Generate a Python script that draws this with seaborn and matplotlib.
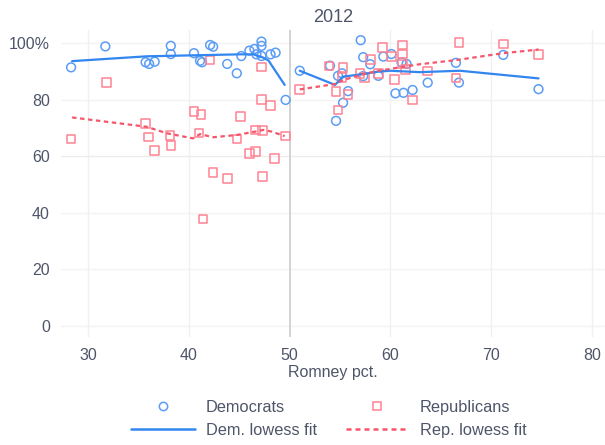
import matplotlib
matplotlib.use("Agg")
import matplotlib.pyplot as plt
from matplotlib.lines import Line2D
import seaborn as sns
import pandas as pd

# Democratic districts: Romney share vs. party-line voting share
dem_x = [28.3, 31.7, 35.7, 36.05, 36.6, 38.2, 38.2, 40.5, 41.1, 41.3, 42.1, 42.4,
         43.8, 44.75, 45.2, 46.0, 46.5, 47.2, 47.2, 46.7, 47.2, 48.1, 48.6, 49.6,
         51.0, 54.0, 54.8, 55.2, 55.8, 55.3, 54.6, 57.05, 57.3, 58.0, 57.3, 58.8,
         59.3, 60.1, 61.1, 61.6, 60.5, 61.3, 62.2, 63.7, 66.5, 66.8, 71.2, 74.7]
dem_y = [91.4, 98.8, 93.2, 92.6, 93.4, 99.0, 96.1, 96.4, 93.7, 93.2, 99.3, 98.7,
         92.6, 89.3, 95.4, 97.3, 97.9, 100.5, 99.0, 96.0, 95.4, 96.0, 96.6, 79.9,
         90.2, 92.0, 88.4, 89.3, 83.0, 78.9, 72.5, 101.0, 95.0, 92.5, 88.3, 88.4,
         95.2, 96.1, 93.2, 92.6, 82.2, 82.4, 83.4, 86.0, 93.0, 86.0, 95.8, 83.7]

# Republican districts
rep_x = [28.3, 31.8, 35.7, 36.0, 36.6, 38.1, 38.2, 40.5, 41.2, 41.0, 41.4, 42.1,
         42.4, 43.8, 44.75, 45.1, 46.0, 46.6, 46.6, 47.3, 47.2, 48.1, 47.2, 48.5,
         47.3, 49.6,
         51.0, 53.9, 55.3, 54.6, 54.8, 55.8, 55.2, 57.0, 57.4, 58.0, 58.8, 59.2,
         60.1, 60.4, 61.2, 61.2, 61.2, 61.5, 62.2, 63.7, 66.5, 66.8, 71.2, 74.7]
rep_y = [66.0, 86.0, 71.6, 66.8, 62.0, 67.3, 63.8, 75.7, 74.7, 68.2, 37.8, 94.0,
         54.3, 52.2, 66.0, 74.0, 61.0, 61.6, 69.3, 69.0, 80.0, 77.9, 91.6, 59.2,
         52.8, 67.1,
         83.6, 91.9, 91.3, 82.8, 76.3, 81.9, 87.9, 89.3, 87.9, 94.2, 89.3, 98.5,
         95.2, 87.2, 99.3, 96.1, 92.6, 90.7, 79.9, 90.1, 87.7, 100.1, 99.6, 96.0]

# Lowess fits, estimated separately on each side of the 50% cutoff
dem_fit_left_x = [28.4, 35.8, 45.1, 46.4, 47.4, 47.9, 49.5]
dem_fit_left_y = [93.6, 95.3, 96.0, 96.0, 94.8, 93.8, 85.2]
dem_fit_right_x = [51.0, 54.5, 55.3, 57.2, 58.8, 60.0, 62.9, 66.9, 74.7]
dem_fit_right_y = [90.2, 85.2, 88.1, 89.0, 89.9, 90.2, 89.7, 90.2, 87.5]
rep_fit_left_x = [28.4, 35.8, 37.8, 40.4, 41.1, 42.4, 44.75, 46.6, 47.4, 48.2, 49.5]
rep_fit_left_y = [73.7, 70.4, 68.1, 66.3, 67.8, 66.7, 67.5, 68.7, 69.3, 68.7, 67.1]
rep_fit_right_x = [51.0, 54.5, 55.3, 57.0, 58.8, 61.3, 62.9, 66.6, 71.2, 74.7]
rep_fit_right_y = [83.6, 85.5, 86.9, 88.7, 90.2, 91.6, 92.5, 94.0, 96.4, 97.7]

x_ticks = [30, 40, 50, 60, 70, 80]
y_ticks = [0, 20, 40, 60, 80, 100]
y_tick_labels = ["0", "20", "40", "60", "80", "100%"]

title = "2012"
x_label = "Romney pct."

DEM_PT = "#5b9df5"
DEM_LN = "#3286ef"
REP_PT = "#ff8393"
REP_LN = "#f5566b"
TXT = "#4f5569"

sns.set_theme(style="white")
plt.rcParams["font.family"] = ["Liberation Sans", "DejaVu Sans"]

fig = plt.figure(figsize=(6.05, 4.45), dpi=100)
ax = fig.add_axes([61 / 605, 1 - 337 / 445, 544 / 605, 307 / 445])

dem = pd.DataFrame({"romney": dem_x, "pct": dem_y})
rep = pd.DataFrame({"romney": rep_x, "pct": rep_y})

# gridlines
for yv in y_ticks:
    ax.axhline(yv, color="#ececec" if yv == 60 else "#f3f3f3", lw=1.0, zorder=0)
for xv in x_ticks:
    if xv != 50:
        ax.axvline(xv, color="#f0f0f0", lw=1.0, zorder=0)
ax.axvline(50, color="#d2d2d2", lw=1.4, zorder=0.5)

sns.scatterplot(data=dem, x="romney", y="pct", ax=ax, marker="o", s=40,
                facecolor="none", edgecolor=DEM_PT, linewidth=1.1, zorder=3)
sns.scatterplot(data=rep, x="romney", y="pct", ax=ax, marker="s", s=38,
                facecolor="none", edgecolor=REP_PT, linewidth=1.1, zorder=3)

for fx, fy in [(dem_fit_left_x, dem_fit_left_y), (dem_fit_right_x, dem_fit_right_y)]:
    sns.lineplot(x=fx, y=fy, ax=ax, color=DEM_LN, lw=1.6, sort=False,
                 estimator=None, zorder=4)
for fx, fy in [(rep_fit_left_x, rep_fit_left_y), (rep_fit_right_x, rep_fit_right_y)]:
    sns.lineplot(x=fx, y=fy, ax=ax, color=REP_LN, lw=1.6, sort=False,
                 estimator=None, zorder=4, dashes=False, linestyle=(0, (2.0, 1.6)))

ax.set_xlim(27.3, 81.3)
ax.set_ylim(-3.9, 104.6)
ax.set_xticks(x_ticks)
ax.set_yticks(y_ticks)
ax.set_yticklabels(y_tick_labels)
ax.tick_params(axis="both", length=0, labelsize=11.5, labelcolor=TXT)
ax.tick_params(axis="y", pad=8)
ax.tick_params(axis="x", pad=8)
for sp in ax.spines.values():
    sp.set_visible(False)
ax.grid(False)
ax.set_xlabel(x_label, fontsize=11.5, color=TXT, labelpad=1)
ax.set_ylabel("")
ax.set_title(title, fontsize=13, color=TXT, pad=6)

handles = [
    Line2D([], [], ls="none", marker="o", ms=6, mfc="none", mec=DEM_PT, mew=1.1),
    Line2D([], [], color=DEM_LN, lw=1.8),
    Line2D([], [], ls="none", marker="s", ms=6, mfc="none", mec=REP_PT, mew=1.1),
    Line2D([], [], color=REP_LN, lw=1.8, ls=(0, (2.0, 1.6))),
]
labels = ["Democrats", "Dem. lowess fit", "Republicans", "Rep. lowess fit"]
leg = fig.legend(handles, labels, loc="center", bbox_to_anchor=(329 / 605, 1 - 419 / 445),
                 ncol=2, frameon=False, fontsize=11.8, handlelength=3.9,
                 handletextpad=0.65, columnspacing=1.75, labelspacing=0.5)
for t in leg.get_texts():
    t.set_color(TXT)

fig.savefig("out.png", dpi=100)
